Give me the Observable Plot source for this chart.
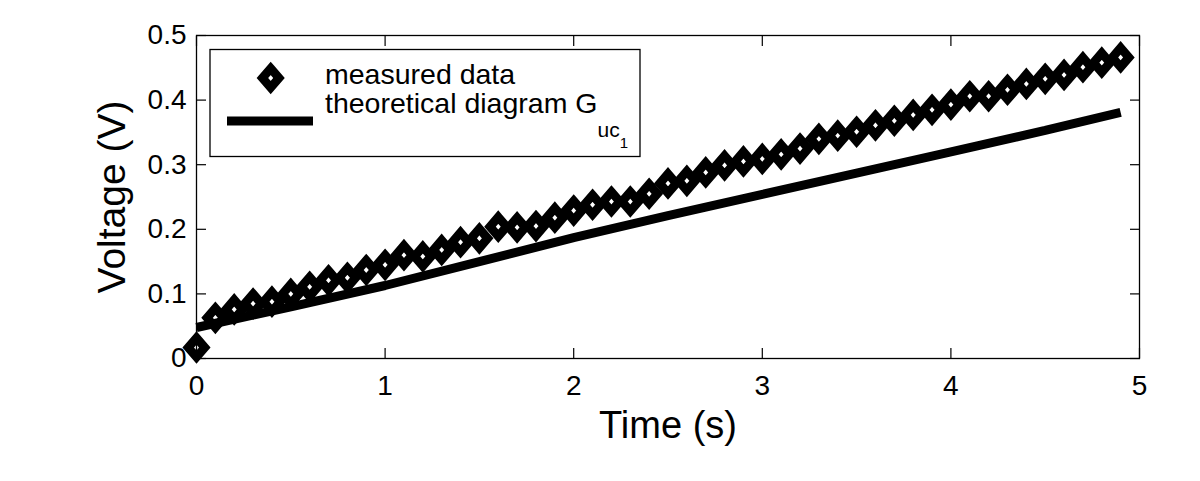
<!DOCTYPE html>
<html>
<head>
<meta charset="utf-8">
<script src="https://cdn.jsdelivr.net/npm/d3@7"></script>
<script src="https://cdn.jsdelivr.net/npm/@observablehq/plot@0.6"></script>
<style>
  html, body { margin: 0; padding: 0; background: #fff; }
  #chart { width: 1200px; height: 481px; }
</style>
</head>
<body>
<div id="chart"></div>
<script>
// ---- data ----
const time = [0.0,0.1,0.2,0.3,0.4,0.5,0.6,0.7,0.8,0.9,
              1.0,1.1,1.2,1.3,1.4,1.5,1.6,1.7,1.8,1.9,
              2.0,2.1,2.2,2.3,2.4,2.5,2.6,2.7,2.8,2.9,
              3.0,3.1,3.2,3.3,3.4,3.5,3.6,3.7,3.8,3.9,
              4.0,4.1,4.2,4.3,4.4,4.5,4.6,4.7,4.8,4.9];
const measured = [0.017,0.063,0.076,0.085,0.088,0.100,0.111,0.121,0.125,0.137,
                  0.145,0.160,0.158,0.168,0.180,0.186,0.204,0.203,0.205,0.218,
                  0.229,0.238,0.243,0.243,0.255,0.271,0.275,0.288,0.299,0.305,
                  0.309,0.316,0.325,0.340,0.345,0.351,0.361,0.368,0.377,0.385,
                  0.393,0.406,0.406,0.416,0.425,0.433,0.439,0.451,0.458,0.466];
const theoryTime = [0,0.5,1,1.5,2,2.5,3,3.5,4,4.5,4.9];
const theory = [0.048,0.080,0.113,0.150,0.187,0.221,0.254,0.287,0.320,0.353,0.381];
const xTicks = [0,1,2,3,4,5];
const yTicks = [0,0.1,0.2,0.3,0.4,0.5];
const xLabel = "Time (s)";
const yLabel = "Voltage (V)";
const legendLabels = ["measured data", "theoretical diagram G"];
const legendSub = "uc";
const legendSubSub = "1";

const measuredData = time.map((t, i) => ({t, v: measured[i]}));
const theoryData = theoryTime.map((t, i) => ({t, v: theory[i]}));

const FONT = "'Liberation Sans', Arial, Helvetica, sans-serif";

// MATLAB-like diamond (slightly taller than wide)
const matlabDiamond = {
  draw(context, size) {
    const r = Math.sqrt(size / Math.PI);
    const a = r * 0.86, b = r;
    context.moveTo(0, -b);
    context.lineTo(a, 0);
    context.lineTo(0, b);
    context.lineTo(-a, 0);
    context.closePath();
  }
};
const R = 9.6, SW = 8.8;

const svg = Plot.plot({
  width: 1200,
  height: 481,
  marginLeft: 196,
  marginRight: 61,
  marginTop: 35,
  marginBottom: 123,
  style: {fontFamily: FONT, fontSize: "28px", color: "#000", background: "#fff", overflow: "visible"},
  x: {domain: [0, 5]},
  y: {domain: [0, 0.5]},
  marks: [
    Plot.axisX({anchor: "bottom", ticks: xTicks, tickSize: -10, tickPadding: 27, tickFormat: d => String(d), label: null, fontSize: 28, strokeWidth: 1.2}),
    Plot.axisX({anchor: "top", ticks: xTicks, tickSize: -10, tickFormat: () => "", label: null, strokeWidth: 1.2}),
    Plot.axisY({anchor: "left", ticks: yTicks, tickSize: -10, tickPadding: 20, tickFormat: d => String(d), label: null, fontSize: 28, strokeWidth: 1.2}),
    Plot.axisY({anchor: "right", ticks: yTicks, tickSize: -10, tickFormat: () => "", label: null, strokeWidth: 1.2}),
    Plot.frame({stroke: "#000", strokeWidth: 1.3}),
    Plot.line(theoryData, {x: "t", y: "v", stroke: "#000", strokeWidth: 9, strokeLinecap: "butt", strokeLinejoin: "miter"}),
    Plot.dot(measuredData, {x: "t", y: "v", symbol: matlabDiamond, r: R, stroke: "#000", strokeWidth: SW, fill: "none", strokeLinejoin: "miter"}),
    Plot.text([xLabel], {text: d => d, frameAnchor: "bottom", textAnchor: "middle", lineAnchor: "middle", dy: 67, fontSize: 38, fill: "#000"}),
    Plot.text([yLabel], {text: d => d, frameAnchor: "left", textAnchor: "middle", lineAnchor: "middle", rotate: -90, dx: -84, fontSize: 39, fill: "#000"})
  ]
});

// ---- legend (inside the axes, top-left) ----
const g = d3.select(svg).append("g").attr("font-family", FONT).attr("fill", "#000").attr("text-anchor", "start");
g.append("rect").attr("x", 210).attr("y", 49.5).attr("width", 430).attr("height", 107)
  .attr("fill", "#fff").attr("stroke", "#000").attr("stroke-width", 1.3);
g.append("path").attr("transform", "translate(270.7,78)")
  .attr("d", d3.symbol(matlabDiamond, R * R * Math.PI)())
  .attr("fill", "none").attr("stroke", "#000").attr("stroke-width", SW).attr("stroke-linejoin", "miter");
g.append("line").attr("x1", 227).attr("x2", 313).attr("y1", 121).attr("y2", 121)
  .attr("stroke", "#000").attr("stroke-width", 9);
g.append("text").attr("x", 325).attr("y", 84).attr("font-size", 28.5).text(legendLabels[0]);
const t2 = g.append("text").attr("x", 325).attr("y", 113).attr("font-size", 28.5);
t2.append("tspan").text(legendLabels[1]);
t2.append("tspan").attr("font-size", 21).attr("dy", 24).text(legendSub);
t2.append("tspan").attr("font-size", 15).attr("dy", 11).text(legendSubSub);

document.getElementById("chart").appendChild(svg);
</script>
</body>
</html>
